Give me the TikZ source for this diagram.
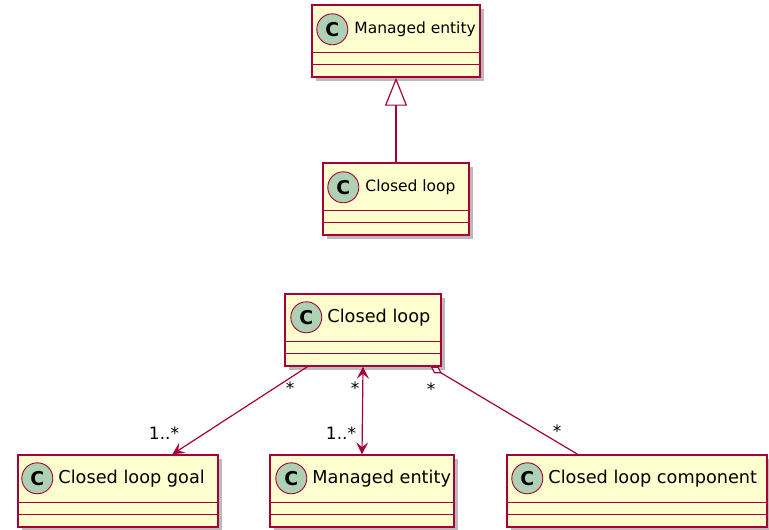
\documentclass[tikz,border=0pt]{standalone}
\usepackage{fontspec}
\setmainfont{DejaVu Sans}
\usetikzlibrary{arrows.meta, calc, shadows}
\definecolor{umlfill}{HTML}{FEFECE}
\definecolor{umlline}{HTML}{A80036}
\definecolor{umlicon}{HTML}{ADD1B2}
\tikzset{
  clsbox/.style={draw=umlline, fill=umlfill, line width=1.4pt, minimum height=72pt,
                 inner sep=0pt,
                 drop shadow={shadow xshift=4pt, shadow yshift=-4pt, fill=black!45, opacity=.6}},
  cicon/.style={circle, draw=umlline, fill=umlicon, line width=0.9pt, minimum size=31pt,
                inner sep=0pt, font=\fontsize{19}{19}\selectfont\bfseries},
  tname/.style={anchor=west, inner sep=0pt, font=\fontsize{15.5}{15.5}\selectfont},
  bname/.style={anchor=west, inner sep=0pt, font=\fontsize{17.7}{17.7}\selectfont},
  sep/.style={draw=umlline, line width=1.3pt},
  link/.style={draw=umlline, line width=1.2pt},
  mult/.style={inner sep=0pt, font=\fontsize{17}{17}\selectfont},
}
% header and two empty compartments
\newcommand\clsparts[1]{%
  \draw[sep] ($(#1.north west)+(0,48)$) -- ($(#1.north east)+(0,48)$);
  \draw[sep] ($(#1.north west)+(0,60)$) -- ($(#1.north east)+(0,60)$);
}

\begin{document}
\begin{tikzpicture}[x=1pt, y=-1pt]
    \useasboundingbox (0,0) rectangle (769,530);

    % upper diagram
    \node[clsbox, minimum width=168pt] (me1) at (396,41) {};
    \clsparts{me1}
    \node[cicon] (me1c) at ($(me1.north west)+(21,25)$) {C};
    \node[tname] (me1t) at ($(me1c.east)+(6,0)$) {Managed entity};

    \node[clsbox, minimum width=146pt] (cl1) at (396,199) {};
    \clsparts{cl1}
    \node[cicon] (cl1c) at ($(cl1.north west)+(21,25)$) {C};
    \node[tname] (cl1t) at ($(cl1c.east)+(6,0)$) {Closed loop};

    \draw[link, -{Triangle[length=28pt, width=22pt, fill=white]}] (cl1.north) -- (me1.south);

    % lower diagram
    \node[clsbox, minimum width=156pt] (cl2) at (363,330) {};
    \clsparts{cl2}
    \node[cicon] (cl2c) at ($(cl2.north west)+(22,24)$) {C};
    \node[bname] (cl2t) at ($(cl2c.east)+(5,0)$) {Closed loop};

    \node[clsbox, minimum width=200pt] (goal) at (118,491) {};
    \clsparts{goal}
    \node[cicon] (goalc) at ($(goal.north west)+(20,24)$) {C};
    \node[bname] (goalt) at ($(goalc.east)+(5,0)$) {Closed loop goal};

    \node[clsbox, minimum width=184pt] (me2) at (362,491) {};
    \clsparts{me2}
    \node[cicon] (me2c) at ($(me2.north west)+(22,24)$) {C};
    \node[bname] (me2t) at ($(me2c.east)+(5,0)$) {Managed entity};

    \node[clsbox, minimum width=260pt] (comp) at (637,491) {};
    \clsparts{comp}
    \node[cicon] (compc) at ($(comp.north west)+(21,24)$) {C};
    \node[bname] (compt) at ($(compc.east)+(5,0)$) {Closed loop component};

    \draw[link, -{Stealth[length=12pt, width=12pt, inset=5pt]}]
      ($(cl2.south west)!0.147!(cl2.south east)$) -- ($(goal.north west)!0.77!(goal.north east)$);
    \draw[link, {Stealth[length=12pt, width=12pt, inset=5pt]}-{Stealth[length=12pt, width=12pt, inset=5pt]}]
      (cl2.south) -- (me2.north);
    \draw[link, {Diamond[length=13pt, width=8pt, fill=white]}-]
      ($(cl2.south west)!0.93!(cl2.south east)$) -- ($(comp.north west)!0.273!(comp.north east)$);

    \node[mult] (m1a) at (290,388) {*};
    \node[mult] (m1b) at (164,433) {1..*};
    \node[mult] (m2a) at (355,388) {*};
    \node[mult] (m2b) at (341,433) {1..*};
    \node[mult] (m3a) at (431,389) {*};
    \node[mult] (m3b) at (557,431) {*};
\end{tikzpicture}
\end{document}
